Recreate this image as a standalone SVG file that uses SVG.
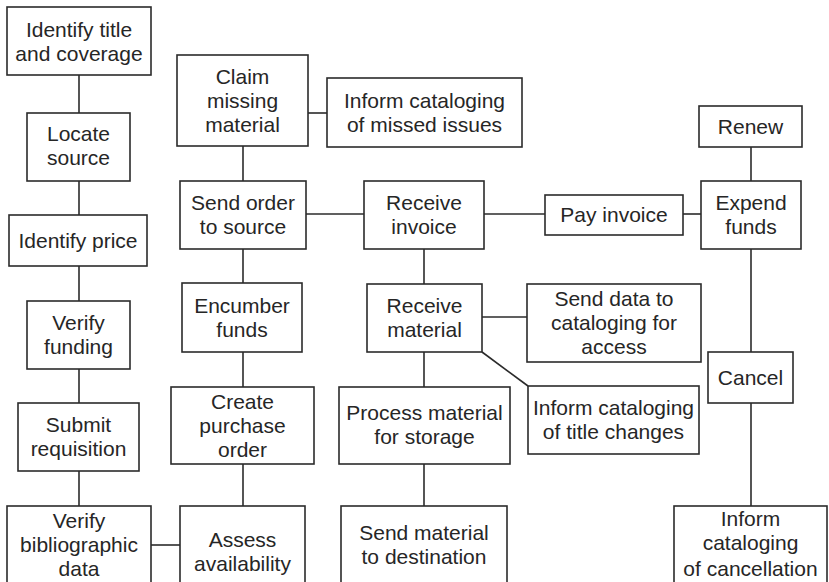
<svg xmlns="http://www.w3.org/2000/svg" width="829" height="582" viewBox="0 0 829 582">
  <style>
    .box rect { fill: #fff; stroke: #2b2b2b; stroke-width: 1.6; }
    .box text { font-family: "Liberation Sans", Arial, Helvetica, sans-serif; font-size: 21px; fill: #262626; text-anchor: middle; }
    #connectors line { stroke: #2b2b2b; stroke-width: 1.6; }
  </style>
  <rect width="829" height="582" fill="#fff"/>

  <g id="connectors">
    <line x1="79" y1="75" x2="79" y2="113"/>
    <line x1="79" y1="181" x2="79" y2="215"/>
    <line x1="79" y1="266" x2="79" y2="301"/>
    <line x1="79" y1="369" x2="79" y2="403"/>
    <line x1="79" y1="471" x2="79" y2="506"/>
    <line x1="151" y1="545" x2="180" y2="545"/>
    <line x1="243" y1="464" x2="243" y2="506"/>
    <line x1="243" y1="352" x2="243" y2="387"/>
    <line x1="243" y1="249" x2="243" y2="283"/>
    <line x1="243" y1="146" x2="243" y2="181"/>
    <line x1="308" y1="113" x2="327" y2="113"/>
    <line x1="306" y1="214" x2="364" y2="214"/>
    <line x1="484" y1="214" x2="545" y2="214"/>
    <line x1="683" y1="214" x2="701" y2="214"/>
    <line x1="751" y1="147" x2="751" y2="181"/>
    <line x1="751" y1="249" x2="751" y2="352"/>
    <line x1="751" y1="403" x2="751" y2="506"/>
    <line x1="424" y1="249" x2="424" y2="284"/>
    <line x1="482" y1="317" x2="527" y2="317"/>
    <line x1="482" y1="352" x2="528" y2="386"/>
    <line x1="424" y1="352" x2="424" y2="387"/>
    <line x1="424" y1="464" x2="424" y2="506"/>
  </g>

  <g id="identify-title" class="box">
    <rect x="7" y="7" width="144" height="68"/>
    <text x="79" y="36.5">Identify title</text>
    <text x="79" y="60.5">and coverage</text>
  </g>
  <g id="locate-source" class="box">
    <rect x="27" y="113" width="103" height="68"/>
    <text x="78.5" y="141">Locate</text>
    <text x="78.5" y="165">source</text>
  </g>
  <g id="identify-price" class="box">
    <rect x="9" y="215" width="138" height="51"/>
    <text x="78" y="248">Identify price</text>
  </g>
  <g id="verify-funding" class="box">
    <rect x="27" y="301" width="103" height="68"/>
    <text x="78.5" y="330">Verify</text>
    <text x="78.5" y="354">funding</text>
  </g>
  <g id="submit-requisition" class="box">
    <rect x="18" y="403" width="121" height="68"/>
    <text x="78.5" y="432">Submit</text>
    <text x="78.5" y="456">requisition</text>
  </g>
  <g id="verify-bibliographic" class="box">
    <rect x="7" y="506" width="144" height="84"/>
    <text x="79" y="528">Verify</text>
    <text x="79" y="552">bibliographic</text>
    <text x="79" y="576">data</text>
  </g>

  <g id="claim-missing" class="box">
    <rect x="177" y="55" width="131" height="91"/>
    <text x="242.5" y="84">Claim</text>
    <text x="242.5" y="108">missing</text>
    <text x="242.5" y="132">material</text>
  </g>
  <g id="inform-missed" class="box">
    <rect x="327" y="78" width="195" height="69"/>
    <text x="424.5" y="107.5">Inform cataloging</text>
    <text x="424.5" y="131.5">of missed issues</text>
  </g>
  <g id="send-order" class="box">
    <rect x="180" y="181" width="126" height="68"/>
    <text x="243" y="210">Send order</text>
    <text x="243" y="234">to source</text>
  </g>
  <g id="encumber-funds" class="box">
    <rect x="182" y="283" width="120" height="69"/>
    <text x="242" y="312.5">Encumber</text>
    <text x="242" y="336.5">funds</text>
  </g>
  <g id="create-po" class="box">
    <rect x="171" y="387" width="143" height="77"/>
    <text x="242.5" y="408.5">Create</text>
    <text x="242.5" y="432.5">purchase</text>
    <text x="242.5" y="456.5">order</text>
  </g>
  <g id="assess-availability" class="box">
    <rect x="180" y="506" width="125" height="84"/>
    <text x="242.5" y="547">Assess</text>
    <text x="242.5" y="571">availability</text>
  </g>

  <g id="receive-invoice" class="box">
    <rect x="364" y="181" width="120" height="68"/>
    <text x="424" y="210">Receive</text>
    <text x="424" y="234">invoice</text>
  </g>
  <g id="receive-material" class="box">
    <rect x="367" y="284" width="115" height="68"/>
    <text x="424.5" y="313">Receive</text>
    <text x="424.5" y="337">material</text>
  </g>
  <g id="process-material" class="box">
    <rect x="339" y="387" width="171" height="77"/>
    <text x="424.5" y="420">Process material</text>
    <text x="424.5" y="444">for storage</text>
  </g>
  <g id="send-material" class="box">
    <rect x="341" y="506" width="166" height="84"/>
    <text x="424" y="540">Send material</text>
    <text x="424" y="564">to destination</text>
  </g>

  <g id="send-data" class="box">
    <rect x="527" y="284" width="174" height="78"/>
    <text x="614" y="306">Send data to</text>
    <text x="614" y="330">cataloging for</text>
    <text x="614" y="354">access</text>
  </g>
  <g id="inform-title-changes" class="box">
    <rect x="528" y="386" width="171" height="68"/>
    <text x="613.5" y="415">Inform cataloging</text>
    <text x="613.5" y="439">of title changes</text>
  </g>
  <g id="pay-invoice" class="box">
    <rect x="545" y="195" width="138" height="40"/>
    <text x="614" y="222">Pay invoice</text>
  </g>
  <g id="renew" class="box">
    <rect x="699" y="106" width="103" height="41"/>
    <text x="750.5" y="133.5">Renew</text>
  </g>
  <g id="expend-funds" class="box">
    <rect x="701" y="181" width="100" height="68"/>
    <text x="751" y="210">Expend</text>
    <text x="751" y="234">funds</text>
  </g>
  <g id="cancel" class="box">
    <rect x="708" y="352" width="85" height="51"/>
    <text x="750.5" y="385">Cancel</text>
  </g>
  <g id="inform-cancellation" class="box">
    <rect x="674" y="506" width="153" height="84"/>
    <text x="750.5" y="526">Inform</text>
    <text x="750.5" y="550">cataloging</text>
    <text x="750.5" y="576">of cancellation</text>
  </g>
</svg>
